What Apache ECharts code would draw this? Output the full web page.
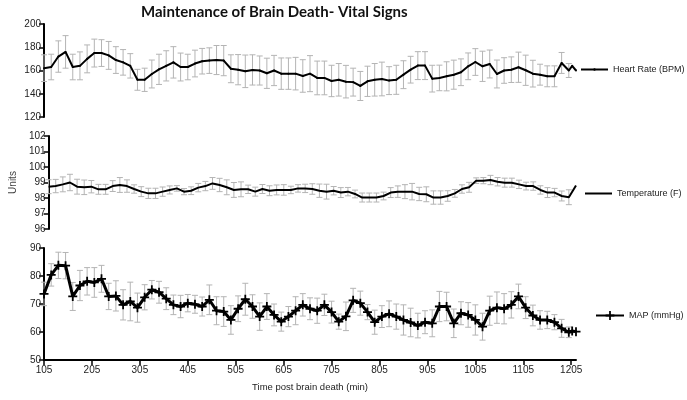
<!DOCTYPE html>
<html><head><meta charset="utf-8">
<script src="https://cdn.jsdelivr.net/npm/echarts@6/dist/echarts.min.js"></script>
<style>html,body{margin:0;padding:0;background:#fff}#c{width:687px;height:400px}</style>
</head><body><div id="c"></div>
<script>
const times = [105,120,135,150,165,180,195,210,225,240,255,270,285,300,315,330,345,360,375,390,405,420,435,450,465,480,495,510,525,540,555,570,585,600,615,630,645,660,675,690,705,720,735,750,765,780,795,810,825,840,855,870,885,900,915,930,945,960,975,990,1005,1020,1035,1050,1065,1080,1095,1110,1125,1140,1155,1170,1185,1200,1207,1215];
const heartRate = [162,163,172,176,163,164,170,175,175,173,169,167,164,152,152,157,161,164,167,163,163,166,168,168.5,169,168.5,161.5,160.7,159.3,160.5,160,157.6,160,157.3,157.3,157.3,155.3,157.3,153.6,153.6,151,152,150.4,150,146.7,150.7,152,152.7,151.3,152,156.4,160.7,164.2,164.2,153,153.6,155,156.4,158.5,163.6,167.3,163.6,165.6,157,160,160.7,162.8,160.2,157.3,156.4,155,155,166.5,160,164,160];
const heartRateErr = [11.5,11,13.5,14,11,12,12,12,11.5,12,11.5,11,10.5,9,10,12,13,13,13.5,12,11,11.5,11,11,12.5,13,12,13,14,13,12.5,13,13,13.5,13.5,14,14,15.5,14.5,14.5,13.5,14,14,12,12.5,13,14,14.5,12,12.5,12,11.5,12,12,11.5,11,12.5,12.5,11.5,11.5,11.5,13,12,12,11,11,13,13,11.5,9,9,9,9,6,0,0];
const temperature = [98.73,98.77,98.88,99.0,98.73,98.69,98.73,98.56,98.56,98.77,98.84,98.77,98.58,98.41,98.3,98.3,98.41,98.52,98.62,98.41,98.47,98.67,98.77,98.94,98.84,98.69,98.52,98.56,98.56,98.41,98.58,98.47,98.52,98.52,98.52,98.62,98.62,98.58,98.47,98.41,98.47,98.35,98.41,98.26,98.03,98.03,98.03,98.13,98.35,98.41,98.41,98.41,98.26,98.24,98.03,98.03,98.13,98.3,98.58,98.69,99.12,99.12,99.16,99.05,98.99,98.99,98.88,98.77,98.77,98.52,98.35,98.35,98.13,98.05,null,98.8];
const temperatureErr = [0.45,0.43,0.48,0.53,0.48,0.47,0.4,0.32,0.32,0.35,0.48,0.4,0.27,0.32,0.33,0.33,0.3,0.26,0.18,0.2,0.25,0.27,0.3,0.38,0.43,0.48,0.48,0.48,0.27,0.29,0.29,0.32,0.32,0.34,0.24,0.24,0.27,0.34,0.43,0.48,0.27,0.32,0.27,0.25,0.29,0.29,0.29,0.25,0.32,0.37,0.45,0.53,0.43,0.48,0.43,0.43,0.34,0.25,0.27,0.32,0.18,0.2,0.3,0.27,0.29,0.29,0.27,0.25,0.27,0.27,0.32,0.27,0.32,0.48,0,0];
const map = [73.6,80.4,83.8,83.7,72.7,76.6,78.1,77.7,79,72.7,72.9,69.7,70.9,68.7,72.4,75.1,74.2,71.9,69.7,69.1,70.3,69.9,69.1,71.5,67.6,67.3,64.3,68.3,71.7,69.1,65.5,69.1,66.1,63.7,65.5,67.6,69.7,68.3,67.6,69.7,67.1,63.7,65.6,71.3,70.3,67.1,63.5,65.5,66.5,65.5,64.3,63.4,62.3,63.5,63.1,69.1,69.1,63.1,66.7,66.1,64.3,61.9,67.6,68.7,68.3,69.7,72.7,68.7,65.9,64.3,64.3,63.5,61.3,59.9,60.4,60.1];
const mapErr = [4.2,4,4.7,4.7,5,5.4,4.9,5.3,4.8,4.7,5.4,5.4,6.9,5.2,4.5,3.3,3.9,3.9,3.5,4,3.1,3.2,3.4,5.3,5,5.3,5.1,4.6,5.7,4.2,4.9,4.6,3.9,3.4,3.6,5,4,3.9,4.5,3.8,3.9,2.7,5.1,4.3,4.3,2.7,4.3,3.9,4.6,4.5,5.4,5.1,4.4,4.1,4.8,5.4,5.1,5.1,4.1,4.4,5.4,4.8,5.2,5.6,5.4,4.7,4.4,3.9,3.7,3.3,3.1,2.7,3.2,1.9,0,0];
const xTicks = [105,205,305,405,505,605,705,805,905,1005,1105,1205];
const seriesNames = ['Heart Rate (BPM)','Temperature (F)','MAP (mmHg)'];
const title = 'Maintenance of Brain Death- Vital Signs';
const xName = 'Time post brain death (min)';
const yName = 'Units';

const lineData = v => times.map((t,i) => [t, v[i]]);
const errData = (v, e) => times.map((t,i) => (v[i] == null || !e[i]) ? null : [t, v[i]-e[i], v[i]+e[i]]).filter(d => d);
function errRender(params, api) {
  const x = api.value(0);
  const p1 = api.coord([x, api.value(2)]);
  const p2 = api.coord([x, api.value(1)]);
  const w = 3;
  const st = {stroke:'#b4b4b4', lineWidth:1};
  return {type:'group', children:[
    {type:'line', shape:{x1:p1[0],y1:p1[1],x2:p2[0],y2:p2[1]}, style:st},
    {type:'line', shape:{x1:p1[0]-w,y1:p1[1],x2:p1[0]+w,y2:p1[1]}, style:st},
    {type:'line', shape:{x1:p2[0]-w,y1:p2[1],x2:p2[0]+w,y2:p2[1]}, style:st}
  ]};
}
const FONT = 'Arial';
const grids = [
  {left:44, width:532, top:24, height:93},
  {left:44, width:532, top:136, height:93},
  {left:44, width:532, top:248, height:112}
];
const yCfg = [[120,200,20],[96,102,1],[50,90,10]];
const xAxes = grids.map((g,i) => ({
  type:'value', gridIndex:i, min:105, max:1215,
  axisLine:{show:i===2, onZero:false, lineStyle:{color:'#000', width:2}},
  axisTick:{show:i===2, length:5, lineStyle:{color:'#000', width:1.5}, customValues:xTicks},
  axisLabel:{show:i===2, customValues:xTicks, formatter:v => String(v), color:'#222', fontFamily:FONT, fontSize:10, margin:5},
  splitLine:{show:false},
  name: i===2 ? xName : '', nameLocation:'middle', nameGap:22,
  nameTextStyle:{color:'#222', fontFamily:FONT, fontSize:9.5}
}));
const yAxes = grids.map((g,i) => ({
  type:'value', gridIndex:i, min:yCfg[i][0], max:yCfg[i][1], interval:yCfg[i][2],
  axisLine:{show:true, lineStyle:{color:'#000', width:2}},
  axisTick:{show:true, length:5, lineStyle:{color:'#000', width:1.5}},
  axisLabel:{color:'#222', fontFamily:FONT, fontSize:10, margin:3},
  splitLine:{show:false},
  name: i===1 ? yName : '', nameLocation:'middle', nameGap:25, nameRotate:90,
  nameTextStyle:{color:'#444', fontFamily:FONT, fontSize:10}
}));
const plus = 'path://M4,0 H6 V4 H10 V6 H6 V10 H4 V6 H0 V4 H4 Z';
const legendText = {fontFamily:FONT, fontSize:9, color:'#222'};
const option = {
  animation:false,
  backgroundColor:'#fff',
  title:{text:title, left:136, top:0, textStyle:{fontFamily:'Lato', fontWeight:'bold', fontSize:15, color:'#111'}},
  grid:grids,
  xAxis:xAxes,
  yAxis:yAxes,
  legend:[
    {data:[seriesNames[0]], left:580, top:65, padding:0, itemWidth:27, itemHeight:3, textStyle:legendText},
    {data:[{name:seriesNames[1], icon:'path://M0,0 H27 V2 H0 Z'}], left:585, top:189, padding:0, itemWidth:27, itemHeight:2, textStyle:legendText},
    {data:[seriesNames[2]], left:595, top:311, padding:0, itemWidth:28, itemHeight:11, textStyle:legendText}
  ],
  series:[
    {type:'custom', name:'hrErr', xAxisIndex:0, yAxisIndex:0, renderItem:errRender, data:errData(heartRate, heartRateErr), z:1, silent:true},
    {type:'custom', name:'tErr', xAxisIndex:1, yAxisIndex:1, renderItem:errRender, data:errData(temperature, temperatureErr), z:1, silent:true},
    {type:'custom', name:'mErr', xAxisIndex:2, yAxisIndex:2, renderItem:errRender, data:errData(map, mapErr), z:1, silent:true},
    {type:'line', name:seriesNames[0], xAxisIndex:0, yAxisIndex:0, data:lineData(heartRate), symbol:'circle', symbolSize:2,
      itemStyle:{color:'#000'}, lineStyle:{color:'#000', width:2}, z:3},
    {type:'line', name:seriesNames[1], xAxisIndex:1, yAxisIndex:1, data:lineData(temperature), symbol:'none', connectNulls:true,
      itemStyle:{color:'#000'}, lineStyle:{color:'#000', width:2}, z:3},
    {type:'line', name:seriesNames[2], xAxisIndex:2, yAxisIndex:2, data:lineData(map), symbol:plus, symbolSize:9,
      itemStyle:{color:'#000'}, lineStyle:{color:'#000', width:3}, z:3}
  ]
};
const chart = echarts.init(document.getElementById('c'), null, {renderer:'canvas'});
chart.setOption(option);
</script></body></html>
